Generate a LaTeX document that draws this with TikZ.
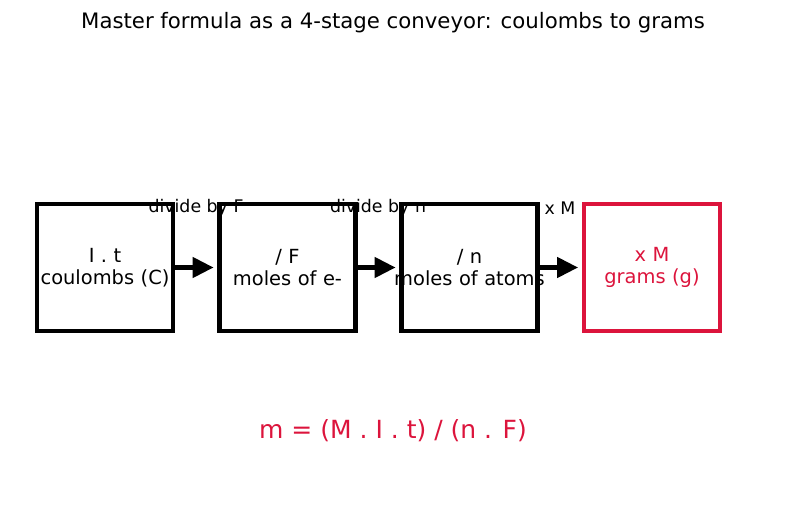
\documentclass[tikz,border=0pt]{standalone}
\usepackage{fontspec}
\setmainfont{DejaVu Sans}
\usepackage{xcolor}
\usetikzlibrary{arrows.meta}
\definecolor{crim}{RGB}{220,20,60}

\begin{document}
\begin{tikzpicture}[x=0.72pt,y=-0.72pt,
  stage/.style={draw,line width=2.9pt,text width=136*0.72pt,minimum height=127*0.72pt,
    align=center,font=\fontsize{14}{16}\selectfont,inner sep=0pt,outer sep=0pt},
  conv/.style={line width=2.9pt,-{Triangle[length=15pt,width=14.5pt]}},
  lbl/.style={font=\fontsize{12.5}{14}\selectfont,inner sep=0pt}]
\useasboundingbox (0,0) rectangle (787,508);
% title
\node[font=\fontsize{15.3}{18}\selectfont] (title) at (393,23) {Master formula as a 4-stage conveyor: coulombs to grams};
% labels over the gaps (drawn first, boxes cover them)
\node[lbl] (l1) at (196,208) {divide by F};
\node[lbl] (l2) at (378,208) {divide by n};
\node[lbl] (l3) at (560,208) {x M};
% the four stages
\node[stage] (s1) at (105,267.5) {I . t\\\makebox[\linewidth]{coulombs (C)}};
\node[stage] (s2) at (287.5,267.5) {/ F\\moles of e-};
\node[stage] (s3) at (469.5,267.5) {/ n\\\makebox[\linewidth]{moles of atoms}};
\node[stage,draw=crim,text=crim] (s4) at (652,267.5) {x M\\grams (g)};
% frames again on top of the text
\foreach \s in {s1,s2,s3}
  \draw[line width=2.9pt] (\s.south west) rectangle (\s.north east);
% conveyor arrows
\draw[conv] (s1.east) -- ([xshift=-6*0.72pt]s2.west);
\draw[conv] (s2.east) -- ([xshift=-6*0.72pt]s3.west);
\draw[conv] (s3.east) -- ([xshift=-6*0.72pt]s4.west);
% formula
\node[font=\fontsize{18}{21}\selectfont,text=crim] (formula) at (393,431) {m = (M . I . t) / (n . F)};
\end{tikzpicture}
\end{document}
